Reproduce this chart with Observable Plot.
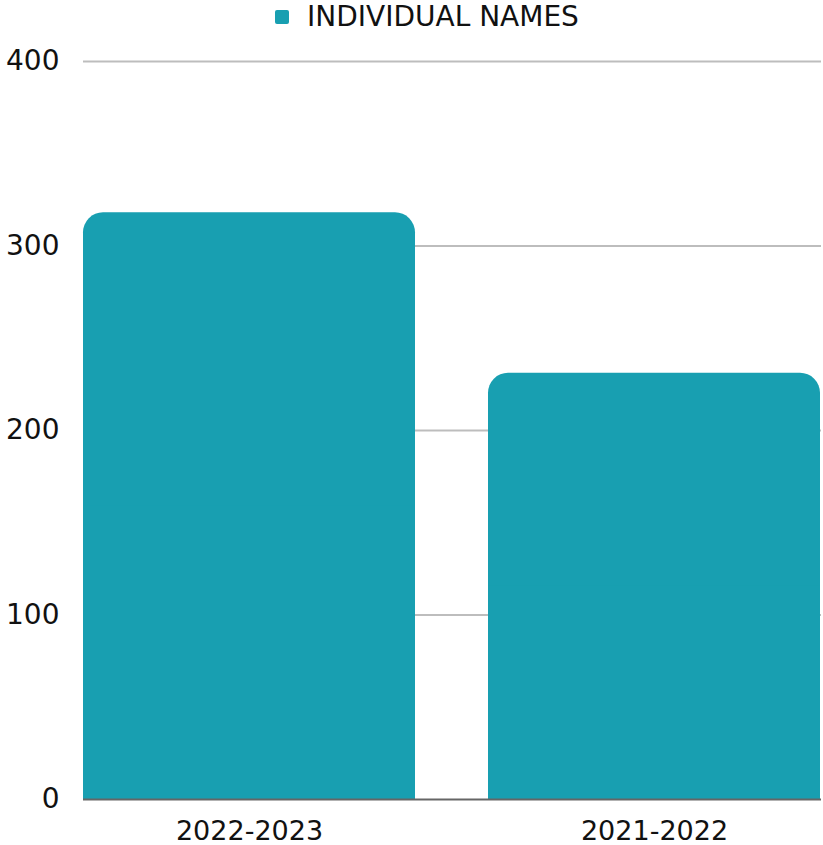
<!DOCTYPE html>
<html>
<head>
<meta charset="utf-8">
<script src="https://cdn.jsdelivr.net/npm/d3@7"></script>
<script src="https://cdn.jsdelivr.net/npm/@observablehq/plot@0.6"></script>
<style>
  html, body { margin: 0; padding: 0; background: #fff; }
  body { width: 823px; height: 845px; overflow: hidden; font-family: "DejaVu Sans", sans-serif; }
  #legend { height: 33px; display: flex; align-items: center; padding-left: 275px; font-size: 28px; line-height: 33px; color: #111; white-space: nowrap; }
  #legend .sw { width: 14px; height: 14px; background: #189fb1; border-radius: 2px; margin-right: 18px; }
</style>
</head>
<body>
<div id="legend"><span class="sw"></span><span class="lab" id="legendText"></span></div>
<div id="chart"></div>
<script>
const categories = ["2022-2023", "2021-2022"];
const values = [318, 231];
const yTicks = [0, 100, 200, 300, 400];
const seriesName = "INDIVIDUAL NAMES";
const barColor = "#189fb1";

document.getElementById("legendText").textContent = seriesName;

const data = categories.map((c, i) => ({category: c, value: values[i]}));

const chart = Plot.plot({
  width: 823,
  height: 812,
  marginTop: 28,
  marginBottom: 46,
  marginLeft: 83,
  marginRight: 2,
  style: {fontFamily: "DejaVu Sans, sans-serif", background: "#fff", overflow: "visible"},
  x: {domain: categories, paddingInner: 0.18, paddingOuter: 0, label: null},
  y: {domain: [0, 400], label: null},
  marks: [
    Plot.gridY(yTicks.filter(d => d > 0), {stroke: "#bdbdbd", strokeOpacity: 1, strokeWidth: 2}),
    Plot.barY(data, {x: "category", y: "value", fill: barColor, rx: 20, ry: 20}),
    Plot.barY(data, {x: "category", y1: 0, y2: d => d.value / 2, fill: barColor}),
    Plot.ruleY([0], {stroke: "#666", strokeWidth: 2}),
    Plot.axisY(yTicks, {tickSize: 0, tickPadding: 24, fontSize: 28, fill: "#111", textAnchor: "end", label: null}),
    Plot.axisX({tickSize: 0, tickPadding: 21, fontSize: 27, fill: "#111", label: null})
  ]
});
document.getElementById("chart").appendChild(chart);
</script>
</body>
</html>
